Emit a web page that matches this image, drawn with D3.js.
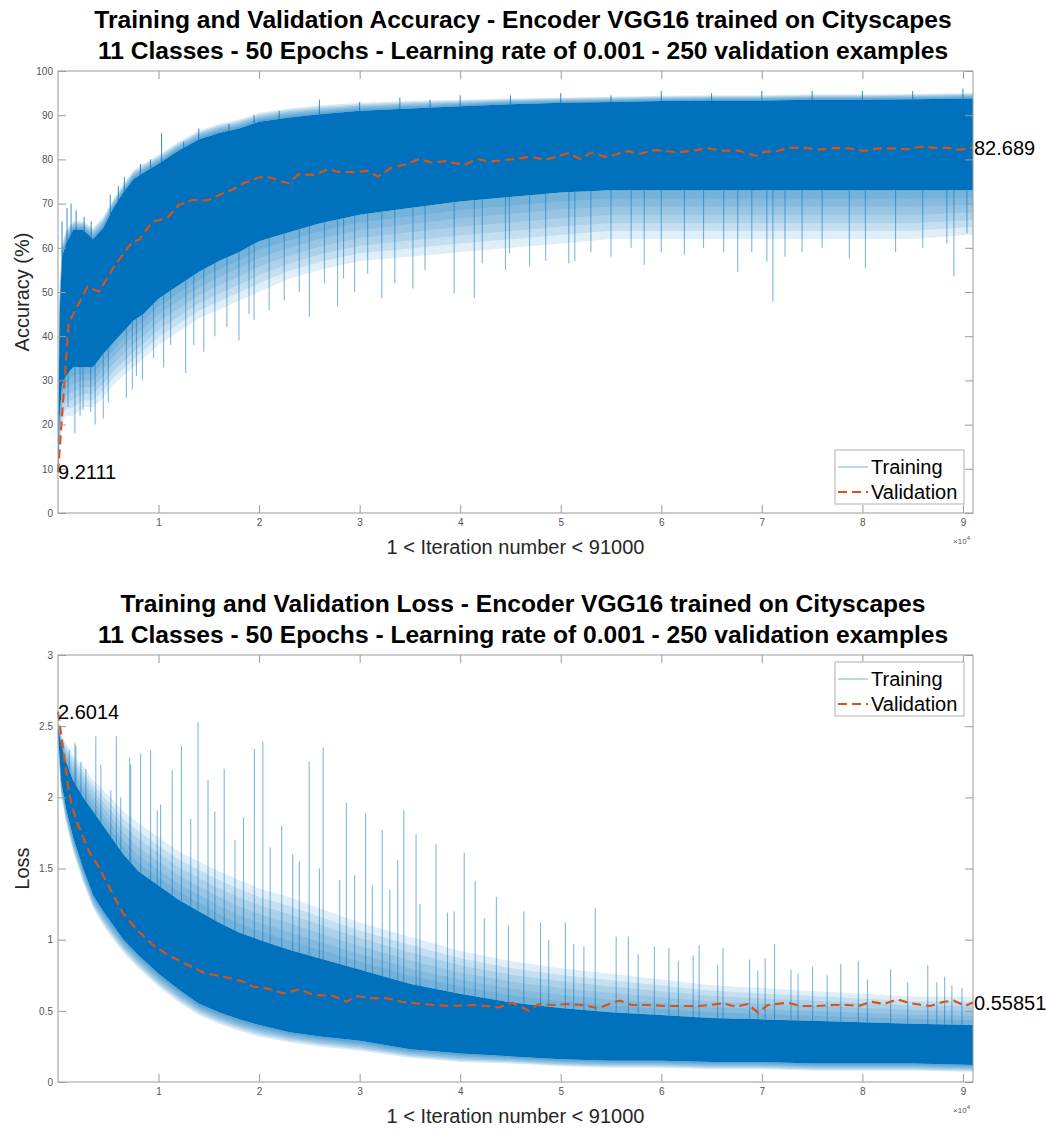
<!DOCTYPE html>
<html><head><meta charset="utf-8">
<script src="https://cdn.jsdelivr.net/npm/d3@7"></script>
<style>body{margin:0;background:#fff}</style>
</head><body><svg id="c" width="1047" height="1139"></svg>
<script>
// ---------------- DATA ----------------
const xTicks = [10000, 20000, 30000, 40000, 50000, 60000, 70000, 80000, 90000];
const accTicks = [0, 10, 20, 30, 40, 50, 60, 70, 80, 90, 100];
const lossTicks = [0, 0.5, 1, 1.5, 2, 2.5, 3];
const seriesNames = ["Training", "Validation"];
const accTitle = ["Training and Validation Accuracy - Encoder VGG16 trained on Cityscapes",
                  "11 Classes - 50 Epochs - Learning rate of 0.001 - 250 validation examples"];
const lossTitle = ["Training and Validation Loss - Encoder VGG16 trained on Cityscapes",
                   "11 Classes - 50 Epochs - Learning rate of 0.001 - 250 validation examples"];

// Training accuracy: envelope of the dense band
const accIter       = [1, 150, 400, 800, 1500, 2500, 3500, 4500, 5500, 6500, 7500, 8500, 10000, 12000, 14000, 16000, 18000, 20000, 23000, 26000, 30000, 35000, 40000, 45000, 50000, 55000, 60000, 65000, 70000, 75000, 80000, 85000, 91000];
const accFringeHigh = [14, 50, 61, 64, 66, 66, 64.5, 67, 71, 74.5, 77.5, 79, 81, 84, 86.5, 88, 89, 90.5, 91.5, 92.2, 92.8, 93.2, 93.5, 93.8, 94, 94.2, 94.4, 94.5, 94.5, 94.7, 94.7, 94.8, 95];
const accCoreHigh   = [12, 45, 58, 61, 64, 64, 62, 64.5, 69, 72.5, 75.5, 77, 79, 82, 84.5, 86, 87, 88.5, 89.5, 90.2, 91, 91.5, 92, 92.5, 92.8, 93, 93.2, 93.3, 93.3, 93.5, 93.5, 93.6, 93.8];
const accCoreLow    = [8, 21, 29, 31, 33, 33, 33, 36, 38.5, 41, 43.5, 45, 48.5, 51.5, 54.5, 57, 59, 61.5, 63.5, 65.5, 67.5, 69, 70.5, 71.5, 72.5, 73, 73, 73, 73, 73, 73, 73, 73];
const accFringeLow  = [8, 15, 20, 22, 22, 24, 24, 26, 29, 31, 33, 35, 38, 41, 44, 46, 48, 50, 53, 55, 57, 58, 59, 60, 61, 62, 62, 62, 62, 62, 62, 62, 63];
// Training accuracy: individual downward spikes
const accSpikeIter = [1000, 1680, 2200, 2500, 3250, 3700, 4500, 5000, 6800, 7400, 7800, 8400, 9500, 10500, 11200, 12700, 13500, 14500, 15600, 16800, 18000, 19000, 19500, 21000, 22500, 24000, 25000, 26500, 27800, 28400, 29500, 30800, 32200, 33500, 35300, 36500, 39400, 41400, 42200, 44500, 44900, 46900, 48500, 50800, 51400, 53000, 55000, 57000, 58300, 60000, 62300, 64200, 66200, 67600, 69000, 70500, 71100, 72300, 74000, 76000, 78700, 80300, 83300, 86000, 88400, 89100, 90400];
const accSpikeVal  = [24, 18, 22, 23.3, 22.9, 20, 21.4, 25, 26, 28, 31, 30, 35, 33, 38, 31.6, 38, 36.5, 40, 42, 39, 45, 43.7, 45.9, 48, 50, 44.4, 52, 46.7, 53.1, 50, 54.2, 48.6, 52, 50.8, 55, 49.7, 48.6, 56.5, 55, 58.7, 55.7, 57, 56.5, 57, 59, 58, 60, 56.1, 59, 58.4, 60, 59, 54.6, 59, 56.9, 47.8, 58, 59, 60, 57.6, 55.4, 59, 60, 61, 53.5, 63.3];
// Training accuracy: upward spikes
const accUpIter = [400, 900, 1300, 1800, 2600, 3300, 5200, 6000, 6600, 8200, 9200, 10300, 12500, 14000, 17000, 19500, 22000, 26000, 30000, 34000, 37000, 40000, 45000, 50000, 55000, 60000, 65000, 70000, 75000, 80000, 85000, 90000];
const accUpVal  = [66, 69, 70, 68.5, 67, 66, 72, 74, 76, 79, 80, 86, 84, 87, 88, 90, 91, 93.5, 93, 94, 93.5, 94.5, 94.5, 95, 94.5, 95.5, 95, 95.5, 95.5, 95.5, 95.5, 96];

// Validation accuracy
const valAccIter = [1, 1060, 2940, 4090, 5570, 7400, 8050, 9380, 10860, 12010, 13340, 14820, 15970, 17300, 18450, 20100, 21090, 22900, 23890, 25540, 26860, 27850, 29340, 30820, 31810, 33140, 34620, 35940, 37100, 38580, 40400, 41710, 42870, 44190, 45510, 47000, 48480, 49800, 50790, 51950, 53100, 54430, 55250, 56730, 57720, 59210, 60500, 61680, 63170, 64650, 65970, 67620, 69430, 70270, 71580, 72570, 74230, 75710, 77200, 78680, 80170, 81650, 83140, 84460, 85770, 87260, 88580, 89730, 91000];
const valAcc     = [9.2111, 43.0, 51.2, 50.1, 55.7, 61.4, 61.8, 65.9, 66.7, 69.7, 70.8, 70.7, 71.9, 73.1, 74.6, 76.0, 75.9, 74.6, 76.6, 76.5, 77.8, 77.2, 77.1, 77.4, 76.1, 78.1, 78.9, 80.1, 79.3, 79.6, 78.7, 80.1, 79.5, 79.8, 80.1, 80.6, 79.9, 80.8, 81.4, 80.1, 81.6, 80.6, 81.0, 81.9, 81.2, 82.1, 81.9, 81.6, 82.0, 82.5, 82.0, 82.0, 80.8, 81.7, 81.9, 82.6, 82.6, 82.2, 82.6, 82.5, 81.9, 82.5, 82.5, 82.3, 82.9, 82.6, 82.6, 82.2, 82.689];

// Training loss: envelope of the dense band
const lossIter       = [1, 300, 800, 1500, 2500, 3500, 4500, 5500, 6500, 8000, 10000, 12000, 14000, 16000, 18000, 20000, 23000, 26000, 30000, 35000, 40000, 45000, 50000, 55000, 60000, 65000, 70000, 75000, 80000, 85000, 91000];
const lossFringeHigh = [2.55, 2.45, 2.38, 2.3, 2.22, 2.12, 2.05, 1.98, 1.9, 1.82, 1.72, 1.62, 1.55, 1.48, 1.42, 1.36, 1.3, 1.22, 1.12, 1.02, 0.92, 0.85, 0.8, 0.76, 0.72, 0.68, 0.66, 0.64, 0.62, 0.6, 0.6];
const lossCoreHigh   = [2.5, 2.38, 2.25, 2.12, 2.0, 1.9, 1.8, 1.7, 1.6, 1.48, 1.38, 1.28, 1.2, 1.12, 1.05, 1.0, 0.93, 0.87, 0.79, 0.69, 0.62, 0.56, 0.52, 0.49, 0.47, 0.45, 0.44, 0.43, 0.42, 0.41, 0.4];
const lossCoreLow    = [2.45, 2.12, 1.92, 1.72, 1.5, 1.31, 1.2, 1.1, 1.0, 0.89, 0.76, 0.65, 0.55, 0.49, 0.44, 0.4, 0.35, 0.32, 0.29, 0.23, 0.2, 0.18, 0.16, 0.15, 0.15, 0.14, 0.14, 0.13, 0.13, 0.13, 0.12];
const lossFringeLow  = [2.4, 2.02, 1.82, 1.62, 1.4, 1.22, 1.1, 1.0, 0.91, 0.8, 0.67, 0.56, 0.47, 0.41, 0.36, 0.32, 0.28, 0.25, 0.22, 0.17, 0.14, 0.13, 0.11, 0.1, 0.1, 0.09, 0.09, 0.08, 0.08, 0.08, 0.07];
// Training loss: individual upward spikes
const lossSpikeIter = [300, 1120, 1680, 1780, 2280, 2770, 3760, 4260, 5250, 5810, 6240, 7130, 7230, 8220, 9210, 9870, 10200, 11360, 12280, 13200, 13930, 14920, 15600, 16530, 17600, 18450, 19530, 20370, 21100, 22250, 23340, 24000, 24980, 26000, 26370, 28020, 28680, 29500, 30590, 31260, 32250, 33000, 33790, 34390, 35610, 36000, 37590, 38740, 39400, 40400, 41490, 42400, 43600, 44800, 46330, 47990, 48800, 50460, 51290, 52300, 53430, 55510, 56730, 57700, 59310, 60760, 61700, 63170, 63760, 65600, 66140, 68780, 69600, 70330, 71260, 72900, 73600, 75050, 76500, 77850, 79600, 80500, 82800, 84500, 86500, 87400, 88180, 88900, 89900];
const lossSpikeVal  = [2.35, 2.33, 2.38, 2.36, 2.25, 2.2, 2.43, 2.23, 2.05, 2.43, 2.0, 2.28, 2.23, 2.31, 2.33, 1.91, 1.95, 2.19, 2.36, 1.85, 2.53, 2.12, 1.9, 2.2, 1.7, 1.86, 2.34, 2.39, 1.65, 1.8, 1.6, 1.55, 2.25, 1.5, 2.35, 1.42, 1.96, 1.45, 1.89, 1.38, 1.77, 1.35, 1.56, 1.91, 1.74, 1.25, 1.67, 1.19, 1.2, 1.61, 1.41, 1.15, 1.3, 1.1, 1.2, 1.12, 1.0, 1.12, 0.97, 0.95, 1.22, 1.02, 1.02, 0.9, 0.95, 0.94, 0.85, 0.89, 0.96, 0.82, 0.94, 0.86, 0.78, 0.87, 0.97, 0.79, 0.76, 0.81, 0.75, 0.83, 0.85, 0.72, 0.79, 0.7, 0.82, 0.7, 0.74, 0.68, 0.66];

// Validation loss
const valLossIter = [1, 1120, 1780, 3100, 4090, 5080, 6410, 7720, 9380, 11020, 13000, 14650, 16310, 18290, 19440, 20760, 22410, 24060, 25380, 27360, 28680, 29670, 31320, 32670, 34130, 35610, 37260, 39240, 41220, 42540, 43860, 45180, 46830, 47820, 49140, 50790, 52110, 53760, 55080, 55910, 57060, 58710, 60370, 62010, 63660, 64820, 66140, 67460, 68610, 69600, 70590, 72570, 73890, 75540, 77200, 78510, 79670, 80820, 82150, 83460, 84780, 86760, 88090, 89080, 90230, 91000];
const valLoss     = [2.6014, 2.022, 1.843, 1.618, 1.506, 1.371, 1.191, 1.079, 0.966, 0.888, 0.820, 0.764, 0.742, 0.708, 0.670, 0.658, 0.623, 0.651, 0.611, 0.606, 0.564, 0.604, 0.588, 0.59, 0.564, 0.553, 0.541, 0.534, 0.541, 0.534, 0.525, 0.557, 0.501, 0.548, 0.541, 0.548, 0.541, 0.518, 0.557, 0.571, 0.541, 0.541, 0.534, 0.534, 0.534, 0.541, 0.553, 0.529, 0.548, 0.487, 0.541, 0.557, 0.534, 0.534, 0.541, 0.541, 0.534, 0.564, 0.548, 0.581, 0.553, 0.534, 0.564, 0.571, 0.534, 0.55851];

// ---------------- DRAWING ----------------
const FONT = "'Liberation Sans', Arial, Helvetica, sans-serif";
const BLUE = "#0072BD", ORANGE = "#D95319", AXIS = "#9a9a9a";
const X0 = 58, X1 = 973;
const svg = d3.select("#c");
svg.append("rect").attr("width", 1047).attr("height", 1139).attr("fill", "#fff");

function panel(o) {
  const x = d3.scaleLinear().domain([1, 91000]).range([X0, X1]);
  const y = d3.scaleLinear().domain(o.yDomain).range([o.bottom, o.top]);
  const g = svg.append("g");
  const id = "clip" + o.key;
  svg.append("clipPath").attr("id", id).append("rect")
    .attr("x", X0).attr("y", o.top).attr("width", X1 - X0).attr("height", o.bottom - o.top);

  // Titles
  o.title.forEach((t, i) => g.append("text").attr("x", 523).attr("y", o.titleY + i * 31)
    .attr("text-anchor", "middle").attr("font-family", FONT).attr("font-weight", "bold")
    .attr("font-size", 24.6).attr("fill", "#000").text(t));

  const plot = g.append("g").attr("clip-path", `url(#${id})`);
  const idx = d3.range(o.iter.length);

  // fringes of the training band: density fades from the core outward
  const steps = [1, 0.83, 0.67, 0.5, 0.33, 0.17];
  o.fringes.forEach(fr => {
    steps.forEach(f => {
      plot.append("path").attr("fill", BLUE).attr("fill-opacity", fr.op)
        .attr("d", d3.area().x(i => x(o.iter[i]))
          .y0(i => y(fr.core[i]))
          .y1(i => y(fr.core[i] + (fr.outer[i] - fr.core[i]) * f))(idx));
    });
  });

  // light spikes
  const edge = d3.scaleLinear().domain(o.iter).range(o.spikeBase).clamp(true);
  plot.selectAll(null).data(d3.range(o.spikeIter.length)).join("line")
    .attr("x1", i => x(o.spikeIter[i])).attr("x2", i => x(o.spikeIter[i]))
    .attr("y1", i => y(o.spikeVal[i])).attr("y2", i => y(edge(o.spikeIter[i])))
    .attr("stroke", BLUE).attr("stroke-opacity", 0.5).attr("stroke-width", 1.1);

  if (o.upIter) {
    const edge2 = d3.scaleLinear().domain(o.iter).range(o.coreHigh).clamp(true);
    plot.selectAll(null).data(d3.range(o.upIter.length)).join("line")
      .attr("x1", i => x(o.upIter[i])).attr("x2", i => x(o.upIter[i]))
      .attr("y1", i => y(o.upVal[i])).attr("y2", i => y(edge2(o.upIter[i])))
      .attr("stroke", BLUE).attr("stroke-opacity", 0.8).attr("stroke-width", 1);
  }

  // dense core
  plot.append("path").attr("fill", BLUE)
    .attr("d", d3.area().x(i => x(o.iter[i])).y0(i => y(o.coreLow[i])).y1(i => y(o.coreHigh[i]))(idx));

  // validation line
  g.append("path").attr("fill", "none").attr("stroke", ORANGE).attr("stroke-width", 2.2)
    .attr("stroke-dasharray", "9,5")
    .attr("d", d3.line().x((d, i) => x(o.valIter[i])).y(d => y(d))(o.val));

  // Axes box
  g.append("rect").attr("x", X0).attr("y", o.top).attr("width", X1 - X0).attr("height", o.bottom - o.top)
    .attr("fill", "none").attr("stroke", AXIS).attr("stroke-width", 1);

  const styleAxis = (sel, labels) => {
    sel.select(".domain").remove();
    sel.selectAll(".tick line").attr("stroke", AXIS);
    sel.selectAll("text").attr("fill", "#555").attr("font-family", FONT).attr("font-size", 10);
    if (!labels) sel.selectAll("text").remove();
  };
  g.append("g").attr("transform", `translate(0,${o.bottom})`)
    .call(d3.axisBottom(x).tickValues(xTicks).tickSize(-8).tickPadding(6).tickFormat(d => d / 10000))
    .call(s => styleAxis(s, true));
  g.append("g").attr("transform", `translate(0,${o.top})`)
    .call(d3.axisTop(x).tickValues(xTicks).tickSize(-8))
    .call(s => styleAxis(s, false));
  g.append("g").attr("transform", `translate(${X0},0)`)
    .call(d3.axisLeft(y).tickValues(o.yTicks).tickSize(-8).tickPadding(5).tickFormat(d3.format("~g")))
    .call(s => styleAxis(s, true));
  g.append("g").attr("transform", `translate(${X1},0)`)
    .call(d3.axisRight(y).tickValues(o.yTicks).tickSize(-8))
    .call(s => styleAxis(s, false));

  // x10^4 multiplier
  const m = g.append("text").attr("x", 970).attr("y", o.bottom + 31).attr("text-anchor", "end")
    .attr("font-family", FONT).attr("font-size", 8).attr("fill", "#555");
  m.append("tspan").text("×10");
  m.append("tspan").attr("font-size", 6).attr("dy", -4).text("4");

  // Axis labels
  g.append("text").attr("x", (X0 + X1) / 2).attr("y", o.bottom + 41).attr("text-anchor", "middle")
    .attr("font-family", FONT).attr("font-size", 20).attr("fill", "#262626")
    .text("1 < Iteration number < 91000");
  g.append("text").attr("transform", `translate(29,${(o.top + o.bottom) / 2}) rotate(-90)`)
    .attr("text-anchor", "middle").attr("font-family", FONT).attr("font-size", 20).attr("fill", "#262626")
    .text(o.yLabel);

  // Data tip annotations
  o.notes.forEach(n => g.append("text").attr("x", n.px).attr("y", y(n.v)).attr("dy", "0.35em")
    .attr("font-family", FONT).attr("font-size", 20).attr("fill", "#000").text(n.t));

  // Legend
  const L = g.append("g").attr("transform", `translate(835,${o.legendY})`);
  L.append("rect").attr("width", 129).attr("height", 54).attr("fill", "#fff").attr("stroke", "#b0b0b0");
  L.append("line").attr("x1", 3).attr("x2", 33).attr("y1", 17).attr("y2", 17)
    .attr("stroke", BLUE).attr("stroke-opacity", 0.45).attr("stroke-width", 1.2);
  L.append("line").attr("x1", 3).attr("x2", 33).attr("y1", 42).attr("y2", 42)
    .attr("stroke", ORANGE).attr("stroke-width", 2.2).attr("stroke-dasharray", "9,5");
  seriesNames.forEach((s, i) => L.append("text").attr("x", 36).attr("y", 17 + i * 25).attr("dy", "0.35em")
    .attr("font-family", FONT).attr("font-size", 20).attr("fill", "#000").text(s));
}

panel({
  key: "acc", title: accTitle, titleY: 28, top: 71, bottom: 513, yDomain: [0, 100], yTicks: accTicks,
  yLabel: "Accuracy (%)",
  iter: accIter, coreHigh: accCoreHigh, coreLow: accCoreLow,
  fringes: [{core: accCoreLow, outer: accFringeLow, op: 0.12}, {core: accCoreHigh, outer: accFringeHigh, op: 0.15}],
  spikeIter: accSpikeIter, spikeVal: accSpikeVal, spikeBase: accCoreLow,
  upIter: accUpIter, upVal: accUpVal,
  valIter: valAccIter, val: valAcc,
  notes: [{px: 58, v: valAcc[0], t: "9.2111"}, {px: 974, v: valAcc[valAcc.length - 1], t: "82.689"}],
  legendY: 450
});
panel({
  key: "loss", title: lossTitle, titleY: 612, top: 655, bottom: 1082, yDomain: [0, 3], yTicks: lossTicks,
  yLabel: "Loss",
  iter: lossIter, coreHigh: lossCoreHigh, coreLow: lossCoreLow,
  fringes: [{core: lossCoreHigh, outer: lossFringeHigh, op: 0.12}, {core: lossCoreLow, outer: lossFringeLow, op: 0.15}],
  spikeIter: lossSpikeIter, spikeVal: lossSpikeVal, spikeBase: lossCoreHigh,
  valIter: valLossIter, val: valLoss,
  notes: [{px: 58, v: valLoss[0], t: "2.6014"}, {px: 974, v: valLoss[valLoss.length - 1], t: "0.55851"}],
  legendY: 662
});
</script></body></html>
